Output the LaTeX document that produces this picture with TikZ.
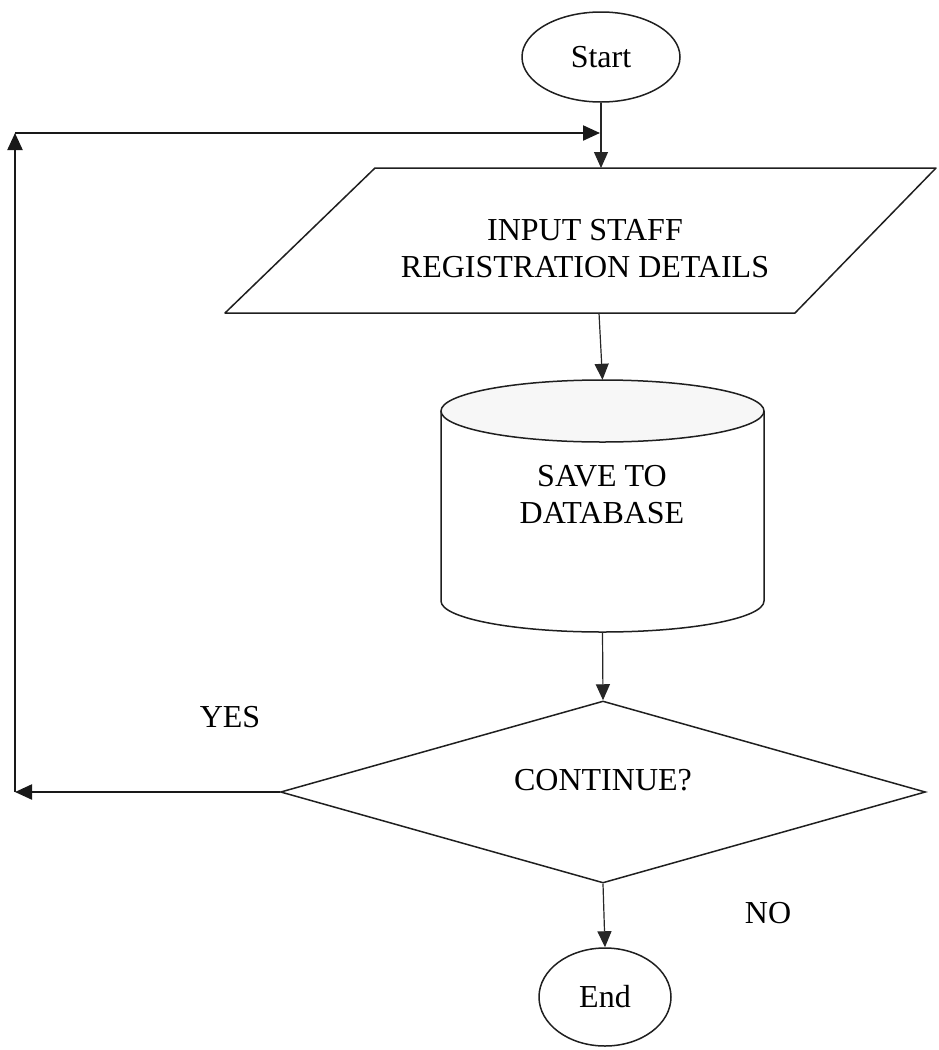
\documentclass[tikz,border=0pt]{standalone}
\usepackage{fontspec}
\setmainfont{Liberation Serif}
\usetikzlibrary{shapes.geometric,arrows.meta}

\begin{document}
\begin{tikzpicture}[x=1pt,y=-1pt,
    every node/.style={font=\fontsize{32}{37}\selectfont, align=center, text=black},
    shapeline/.style={draw=black!88, line width=1.5pt},
    terminal/.style={ellipse, shapeline, inner sep=0pt},
    flow/.style={draw=black!85, line width=1.2pt, -{Triangle[length=16pt,width=14pt]}},
    loopline/.style={draw=black!90, line width=2.2pt, -{Triangle[length=17pt,width=15pt]}},
    label/.style={inner sep=0pt}
  ]
  % page frame
  \useasboundingbox (0,0) rectangle (938,1050);

  % start terminal
  \node[terminal, minimum width=158pt, minimum height=90pt] (start) at (601,57) {Start};

  % input parallelogram
  \coordinate (inNW) at (375,168);
  \coordinate (inNE) at (936,168);
  \coordinate (inSE) at (795,313);
  \coordinate (inSW) at (225,313);
  \coordinate (inN) at (601,168);
  \coordinate (inS) at (599,313);
  \draw[shapeline, line join=round] (inNW) -- (inNE) -- (inSE) -- (inSW) -- cycle;
  \node[label] (input) at (585,249) {INPUT STAFF\\REGISTRATION DETAILS};

  % database cylinder
  \node[minimum width=323pt, minimum height=252pt, inner sep=0pt] (db) at (602.5,506) {};
  \fill[white] (441,411) -- (441,601) arc[start angle=180, end angle=360, x radius=161.5pt, y radius=31pt] -- (764,411) -- cycle;
  \draw[shapeline] (441,411) -- (441,601) arc[start angle=180, end angle=360, x radius=161.5pt, y radius=31pt] -- (764,411);
  \draw[shapeline, fill=black!3] (602.5,411) ellipse [x radius=161.5pt, y radius=31pt];
  \node[label] (dbtext) at (602,495) {SAVE TO\\DATABASE};

  % decision
  \node[diamond, shapeline, minimum width=645pt, minimum height=182pt, inner sep=0pt] (cont) at (603,792) {};
  \node[label] (conttext) at (603,780) {CONTINUE?};

  % end terminal
  \node[terminal, minimum width=132pt, minimum height=98pt] (stop) at (605,997) {End};

  % branch labels
  \node[label] (yes) at (230,717) {YES};
  \node[label] (no) at (768,913) {NO};

  % main flow
  \draw[flow] (start.south) -- (inN);
  \draw[flow] (inS) -- (db.north);
  \draw[flow] (db.south) -- (cont.north);
  \draw[flow] (cont.south) -- (stop.north);

  % loop back on YES
  \coordinate (yesL) at (15,792);
  \coordinate (loopTop) at (15,133);
  \coordinate (loopEnd) at (600,133);
  \draw[loopline] (cont.west) -- (yesL);
  \draw[loopline] (yesL) -- (loopTop);
  \draw[loopline] (loopTop) -- (loopEnd);
\end{tikzpicture}
\end{document}
